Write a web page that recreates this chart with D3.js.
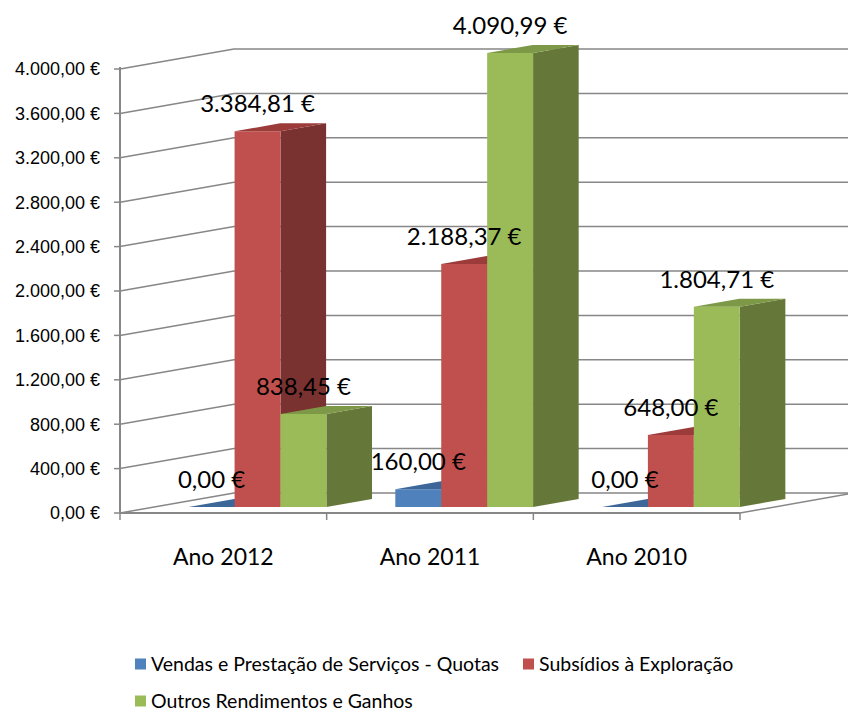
<!DOCTYPE html>
<html>
<head>
<meta charset="utf-8">
<script src="https://cdn.jsdelivr.net/npm/d3@7"></script>
<style>
  body { margin: 0; background: #fff; }
  svg text { font-family: Lato, "Noto Sans", sans-serif; }
</style>
</head>
<body>
<div id="viz"></div>
<script>
// data
var categories = ["Ano 2012", "Ano 2011", "Ano 2010"];
var seriesNames = ["Vendas e Prestação de Serviços - Quotas", "Subsídios à Exploração", "Outros Rendimentos e Ganhos"];
var quotas = [0, 160, 0];
var subsidios = [3384.81, 2188.37, 648];
var outros = [838.45, 4090.99, 1804.71];
var yTicks = [0, 400, 800, 1200, 1600, 2000, 2400, 2800, 3200, 3600, 4000];

var seriesValues = [quotas, subsidios, outros];
// front, side, top
var colors = [
  ["#4f81bd", "#385d8a", "#3d6799"],
  ["#c0504d", "#7a3230", "#9b3c3a"],
  ["#9bbb59", "#66773a", "#7d9846"]
];

var W = 848, H = 713;
var DX = 114, DY = 20;      // depth of the box (front plane -> back wall)
var z0 = 0.3, z1 = 0.7;     // bars sit in the middle of the depth

var pt = d3.formatLocale({decimal: ",", thousands: ".", grouping: [3], currency: ["", " €"]});
var fmt = pt.format("$,.2f");

var svg = d3.select("#viz").append("svg").attr("width", W).attr("height", H);

var y = d3.scaleLinear().domain([0, 4000]).range([513, 69]);
var x0 = d3.scaleBand().domain(categories).range([120, 740]);
var x1 = d3.scaleBand().domain(d3.range(seriesNames.length)).range([0, x0.bandwidth()]).paddingOuter(0.75);

function proj(x, v, z) {
  return [x + z * DX, y(v) - z * DY];
}
function poly(pts) {
  return "M" + pts.map(function (p) { return p[0] + "," + p[1]; }).join("L") + "Z";
}

var grid = "#878787";

// gridlines on side wall + back wall
var g = svg.append("g");
yTicks.forEach(function (t) {
  var a = proj(120, t, 0), b = proj(120, t, 1), c = proj(740, t, 1);
  g.append("path")
    .attr("d", "M" + a + "L" + b + "L" + (W + 10) + "," + c[1])
    .attr("fill", "none").attr("stroke", grid).attr("stroke-width", 1.5);
});

// floor edges
var fr = proj(740, 0, 0), br = proj(740, 0, 1);
g.append("path").attr("d", "M" + fr + "L" + br)
  .attr("fill", "none").attr("stroke", grid).attr("stroke-width", 1.5);

// value axis
svg.append("line").attr("x1", 120).attr("x2", 120).attr("y1", y(4000) - 2).attr("y2", y(0))
  .attr("stroke", grid).attr("stroke-width", 2);
svg.selectAll(".ytick").data(yTicks).enter().append("line")
  .attr("x1", 114).attr("x2", 120).attr("y1", function (d) { return y(d); }).attr("y2", function (d) { return y(d); })
  .attr("stroke", grid).attr("stroke-width", 1.5);
svg.selectAll(".ylab").data(yTicks).enter().append("text")
  .attr("x", 100).attr("y", function (d) { return y(d); }).attr("dy", "0.35em")
  .attr("text-anchor", "end").style("font-family", "'Liberation Sans', Arial, sans-serif")
  .style("font-size", "18px").attr("fill", "#000").text(function (d) { return fmt(d); });

// category axis
svg.append("line").attr("x1", 120).attr("x2", 740).attr("y1", y(0)).attr("y2", y(0))
  .attr("stroke", grid).attr("stroke-width", 2);
var bounds = [120].concat(categories.map(function (c) { return x0(c) + x0.bandwidth(); }));
svg.selectAll(".xtick").data(bounds).enter().append("line")
  .attr("x1", function (d) { return d; }).attr("x2", function (d) { return d; })
  .attr("y1", y(0)).attr("y2", y(0) + 7)
  .attr("stroke", grid).attr("stroke-width", 1.5);
svg.selectAll(".xlab").data(categories).enter().append("text")
  .attr("x", function (d) { return x0(d) + x0.bandwidth() / 2; }).attr("y", 565)
  .attr("text-anchor", "middle").style("font-size", "23px").attr("fill", "#000")
  .text(function (d) { return d; });

// bars, left to right so right neighbours hide side faces
var bars = svg.append("g");
var labels = [];
categories.forEach(function (cat, ci) {
  seriesValues.forEach(function (vals, si) {
    var v = vals[ci];
    var xl = x0(cat) + x1(si), xr = xl + x1.bandwidth();
    var c = colors[si];
    var fbl = proj(xl, 0, z0), fbr = proj(xr, 0, z0), ftl = proj(xl, v, z0), ftr = proj(xr, v, z0);
    var bbr = proj(xr, 0, z1), btl = proj(xl, v, z1), btr = proj(xr, v, z1);
    bars.append("path").attr("d", poly([fbr, bbr, btr, ftr])).attr("fill", c[1]);
    bars.append("path").attr("d", poly([fbl, fbr, ftr, ftl])).attr("fill", c[0]);
    bars.append("path").attr("d", poly([ftl, ftr, btr, btl])).attr("fill", c[2]);
    labels.push({x: (xl + xr) / 2 + z0 * DX, y: ftl[1] - 19, v: v});
  });
});

svg.selectAll(".dlab").data(labels).enter().append("text")
  .attr("x", function (d) { return d.x; }).attr("y", function (d) { return d.y; })
  .attr("text-anchor", "middle").style("font-size", "24px").attr("fill", "#000")
  .text(function (d) { return fmt(d.v); });

// legend
var legendPos = [[135, 664], [523, 664], [135, 701]];
var leg = svg.selectAll(".leg").data(seriesNames).enter().append("g")
  .attr("transform", function (d, i) { return "translate(" + legendPos[i] + ")"; });
leg.append("rect").attr("x", 0).attr("y", -5.5).attr("width", 11).attr("height", 11)
  .attr("fill", function (d, i) { return colors[i][0]; });
leg.append("text").attr("x", 16).attr("dy", "0.35em").style("font-size", "19.5px").attr("fill", "#000")
  .text(function (d) { return d; });
</script>
</body>
</html>
